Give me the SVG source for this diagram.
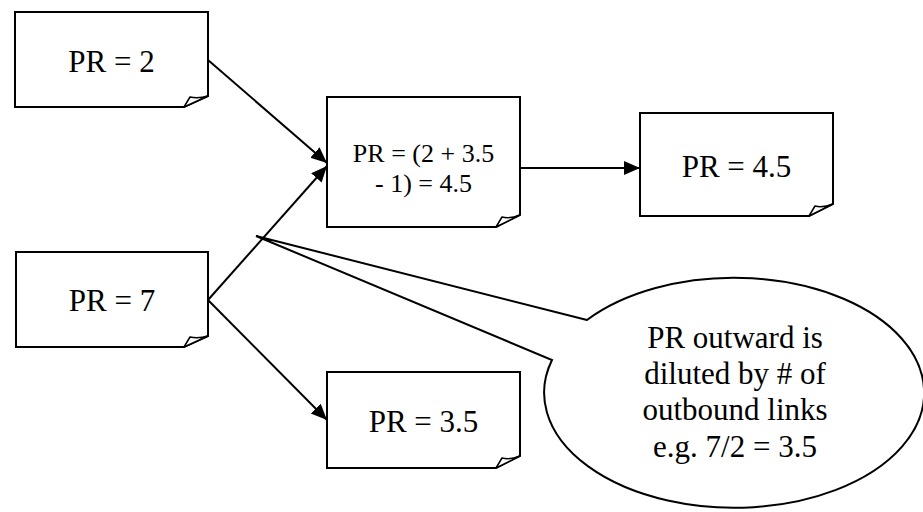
<svg xmlns="http://www.w3.org/2000/svg" width="923" height="512" viewBox="0 0 923 512">
<style>
.box{fill:#fff;stroke:#000;stroke-width:2;stroke-linejoin:miter}
.flap{fill:#fff;stroke:#000;stroke-width:1.5;stroke-linejoin:round}
.t{font-size:31px;fill:#000;text-anchor:middle}
.ts{font-size:26px;fill:#000;text-anchor:middle}
.c{fill:none;stroke:#000;stroke-width:2}
</style>
<defs>
<marker id="ah" markerUnits="userSpaceOnUse" markerWidth="18" markerHeight="16" refX="16" refY="7" orient="auto">
<path d="M0,0 L16,7 L0,14 Z" fill="#000"/>
</marker>
</defs>
<rect width="923" height="512" fill="#fff"/>
<g id="connectors">
<line class="c" x1="208" y1="60" x2="327" y2="163" marker-end="url(#ah)"/>
<line class="c" x1="208" y1="300" x2="327" y2="166" marker-end="url(#ah)"/>
<line class="c" x1="208" y1="300" x2="327" y2="420" marker-end="url(#ah)"/>
<line class="c" x1="520" y1="168" x2="640" y2="168" marker-end="url(#ah)"/>
</g>
<g font-family="Liberation Serif, Tinos, Times New Roman, DejaVu Serif, serif">
<g id="n_pr2">
<path class="box" d="M15,12 H208 V96 L184,107 H15 Z"/>
<path class="flap" d="M184,107 L190,97 Q198,99 208,96 Z"/>
<text class="t" x="111.5" y="72">PR = 2</text>
</g>
<g id="n_pr7">
<path class="box" d="M16,252 H208 V336 L184,347 H16 Z"/>
<path class="flap" d="M184,347 L190,337 Q198,339 208,336 Z"/>
<text class="t" x="112" y="311">PR = 7</text>
</g>
<g id="n_center">
<path class="box" d="M327,97 H520 V215 L496,227 H327 Z"/>
<path class="flap" d="M496,227 L502,217 Q510,219 520,215 Z"/>
<text class="ts" x="423.5" y="162">PR = (2 + 3.5</text>
<text class="ts" x="423.5" y="192">- 1) = 4.5</text>
</g>
<g id="n_pr45">
<path class="box" d="M640,113 H833 V204 L809,216 H640 Z"/>
<path class="flap" d="M809,216 L815,206 Q823,208 833,204 Z"/>
<text class="t" x="736.5" y="177">PR = 4.5</text>
</g>
<g id="n_pr35">
<path class="box" d="M327,372 H520 V456 L496,468 H327 Z"/>
<path class="flap" d="M496,468 L502,458 Q510,460 520,456 Z"/>
<text class="t" x="423.5" y="432">PR = 3.5</text>
</g>
<g id="n_callout">
<path class="box" d="M587,320 L256,236 L552,360 A190,115 0 1 0 587,320 Z"/>
<text class="t" x="735" y="348">PR outward is</text>
<text class="t" x="735" y="384">diluted by # of</text>
<text class="t" x="735" y="420">outbound links</text>
<text class="t" x="735" y="457">e.g. 7/2 = 3.5</text>
</g>
</g>
</svg>
